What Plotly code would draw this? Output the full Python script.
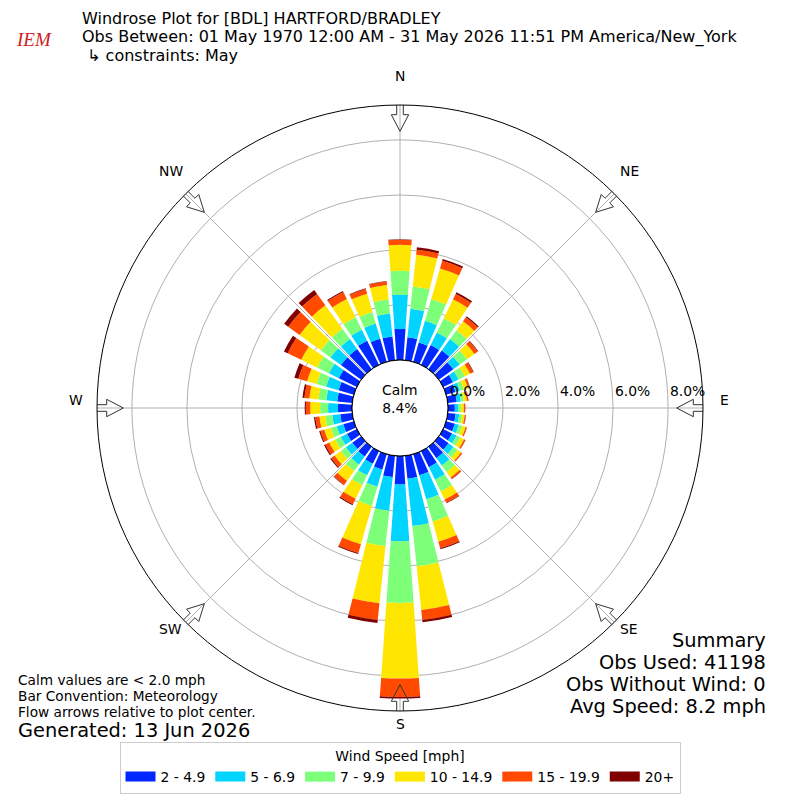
import math
import plotly.graph_objects as go

# Wind direction bins (degrees, meteorological: direction wind blows from)
directions = [0, 10, 20, 30, 40, 50, 60, 70, 80, 90, 100, 110,
              120, 130, 140, 150, 160, 170, 180, 190, 200, 210, 220, 230,
              240, 250, 260, 270, 280, 290, 300, 310, 320, 330, 340, 350]

speedLabels = ["2 - 4.9", "5 - 6.9", "7 - 9.9", "10 - 14.9", "15 - 19.9", "20+"]

# Percent of observations per direction bin, one list per speed class
speed2to5 = [1.13, 0.84, 0.73, 0.80, 0.84, 0.65, 0.40, 0.36, 0.33, 0.25, 0.29, 0.33,
             0.36, 0.44, 0.51, 0.65, 0.80, 0.84, 1.04, 0.78, 0.58, 0.51, 0.44, 0.40,
             0.40, 0.40, 0.44, 0.51, 0.55, 0.58, 0.73, 0.91, 0.91, 0.98, 0.87, 0.87]
speed5to7 = [1.24, 1.04, 0.82, 0.51, 0.51, 0.29, 0.22, 0.16, 0.15, 0.13, 0.13, 0.15,
             0.18, 0.22, 0.33, 0.51, 0.91, 1.73, 2.06, 1.23, 0.65, 0.47, 0.36, 0.29,
             0.25, 0.25, 0.29, 0.36, 0.40, 0.47, 0.40, 0.47, 0.44, 0.44, 0.58, 0.84]
speed7to10 = [0.87, 0.82, 0.82, 0.58, 0.40, 0.33, 0.25, 0.15, 0.11, 0.09, 0.11, 0.13,
              0.15, 0.18, 0.29, 0.47, 0.84, 1.47, 2.24, 1.29, 0.73, 0.40, 0.29, 0.22,
              0.22, 0.22, 0.25, 0.29, 0.29, 0.36, 0.47, 0.44, 0.47, 0.51, 0.44, 0.51]
speed10to15 = [0.95, 1.16, 1.16, 0.76, 0.40, 0.33, 0.22, 0.16, 0.11, 0.11, 0.09, 0.13,
               0.16, 0.16, 0.25, 0.33, 0.76, 1.60, 2.75, 2.09, 1.45, 0.55, 0.44, 0.29,
               0.25, 0.25, 0.22, 0.36, 0.33, 0.36, 0.65, 0.95, 1.05, 0.73, 0.69, 0.53]
speed15to20 = [0.18, 0.18, 0.29, 0.22, 0.18, 0.15, 0.13, 0.07, 0.05, 0.04, 0.04, 0.04,
               0.05, 0.05, 0.07, 0.13, 0.25, 0.36, 0.67, 0.61, 0.33, 0.22, 0.18, 0.15,
               0.16, 0.15, 0.15, 0.16, 0.18, 0.33, 0.55, 0.51, 0.51, 0.29, 0.18, 0.13]
speed20plus = [0.02, 0.09, 0.07, 0.07, 0.05, 0.02, 0.02, 0.01, 0.01, 0.01, 0.01, 0.01,
               0.01, 0.01, 0.01, 0.02, 0.04, 0.09, 0.06, 0.11, 0.04, 0.04, 0.02, 0.04,
               0.05, 0.04, 0.05, 0.04, 0.07, 0.15, 0.15, 0.18, 0.18, 0.04, 0.02, 0.02]

speedSeries = [speed2to5, speed5to7, speed7to10, speed10to15, speed15to20, speed20plus]
speedColors = ["#0028ff", "#00d4ff", "#7dff7a", "#ffe600", "#ff4a00", "#800000"]

compassVals = [0, 45, 90, 135, 180, 225, 270, 315]
compassText = ["N", "NE", "E", "SE", "S", "SW", "W", "NW"]

radialTicks = [0, 2, 4, 6, 8]
radialTickText = ["0.0%", "2.0%", "4.0%", "6.0%", "8.0%"]

calmPct = 8.4

# Page geometry: the html body has an 8px margin, so the figure is 792px
# and every page position below is given in window pixels.
OFF = 8
FW = 800 - OFF
CX, CY = 400, 400
R_OUT = 303
R_HOLE = 48
R_MAX = 9.27
PX_PER_UNIT = (R_OUT - R_HOLE) / R_MAX

FONT = "DejaVu Sans"


def px(x):
    return (x - OFF) / FW


def py(y):
    return 1 - (y - OFF) / FW


fig = go.Figure()

for vals, label, color in zip(speedSeries, speedLabels, speedColors):
    fig.add_trace(
        go.Barpolar(
            r=vals,
            theta=directions,
            width=8,
            name=label,
            marker_color=color,
            marker_line_width=0,
            showlegend=False,
            hoverinfo="skip",
        )
    )

# Legend proxies: thick line segments look like the wide legend patches
for label, color in zip(speedLabels, speedColors):
    fig.add_trace(
        go.Scatterpolar(
            r=[None],
            theta=[None],
            mode="lines",
            name=label,
            line=dict(color=color, width=10),
            showlegend=True,
        )
    )

# Calm circle outline at the edge of the hole
fig.add_trace(
    go.Scatterpolar(
        r=[0] * 73,
        theta=[i * 5 for i in range(73)],
        mode="lines",
        line=dict(color="black", width=1),
        showlegend=False,
        hoverinfo="skip",
    )
)

# Hollow flow arrows at the compass points (outline in local pixel coords)
arrowOutline = [
    (306.7, -3.3), (293.3, -3.3), (293.3, -8.7), (276.7, 0.0),
    (293.3, 8.7), (293.3, 3.3), (306.7, 3.3), (306.7, -3.3),
]
for d in compassVals:
    rr, tt = [], []
    for u, v in arrowOutline:
        rpx = math.hypot(u, v)
        rr.append((rpx - R_HOLE) / PX_PER_UNIT)
        tt.append(d + math.degrees(math.atan2(v, u)))
    fig.add_trace(
        go.Scatterpolar(
            r=rr,
            theta=tt,
            mode="lines",
            line=dict(color="#333333", width=1),
            cliponaxis=False,
            showlegend=False,
            hoverinfo="skip",
        )
    )

dom = [px(CX - R_OUT), px(CX + R_OUT)]

fig.update_layout(
    width=FW,
    height=FW,
    margin=dict(l=0, r=0, t=0, b=0),
    paper_bgcolor="white",
    font=dict(family=FONT, color="black"),
    polar=dict(
        domain=dict(x=dom, y=dom),
        hole=R_HOLE / R_OUT,
        bgcolor="white",
        barmode="stack",
        radialaxis=dict(
            range=[0, R_MAX],
            tickvals=radialTicks,
            angle=0,
            showline=False,
            showticklabels=False,
            ticks="",
            gridcolor="#b0b0b0",
            gridwidth=1,
        ),
        angularaxis=dict(
            direction="clockwise",
            rotation=90,
            tickmode="array",
            tickvals=compassVals,
            showticklabels=False,
            ticks="",
            showline=True,
            linecolor="black",
            linewidth=1,
            gridcolor="#b0b0b0",
            gridwidth=1,
        ),
    ),
    legend=dict(
        orientation="h",
        x=px(400),
        xanchor="center",
        y=py(742),
        yanchor="top",
        title=dict(text="Wind Speed [mph]", side="top center", font=dict(size=13.9)),
        font=dict(size=13.9),
        bordercolor="#cccccc",
        borderwidth=1,
        itemwidth=30,
    ),
    showlegend=True,
)


def addText(text, x, y, size, xanchor="left", color="black", family=FONT):
    fig.add_annotation(
        text=text,
        x=px(x),
        y=py(y),
        xref="paper",
        yref="paper",
        xanchor=xanchor,
        yanchor="middle",
        showarrow=False,
        align=xanchor,
        font=dict(size=size, color=color, family=family),
    )


# Compass labels just outside the rim
for d, lab in zip(compassVals, compassText):
    a = math.radians(d)
    addText(lab, CX + 324 * math.sin(a), CY - 324 * math.cos(a), 13.9, xanchor="center")

# Radial tick labels sit just right of each ring, above the E line
for t, lab in zip(radialTicks, radialTickText):
    addText(lab, CX + R_HOLE + t * PX_PER_UNIT, 391, 13.9)

# Title block
addText("Windrose Plot for [BDL] HARTFORD/BRADLEY", 80, 18.2, 16)
addText("Obs Between: 01 May 1970 12:00 AM - 31 May 2026 11:51 PM America/New_York", 80, 37, 16)
addText(" ↳ constraints: May", 80, 55.8, 16)
addText("<i>IEM</i>", 14, 39, 19, color="#cc2222", family="Liberation Serif")

# Calm value in the middle
addText(f"Calm<br>{calmPct:.1f}%", CX, CY - 1, 13.9, xanchor="center")

# Notes, bottom left
addText("Calm values are < 2.0 mph", 16, 680, 13.7)
addText("Bar Convention: Meteorology", 16, 696, 13.7)
addText("Flow arrows relative to plot center.", 16, 712, 13.7)
addText("Generated: 13 Jun 2026", 16, 730, 19.4)

# Summary, bottom right
addText("Summary", 768, 640, 19.4, xanchor="right")
addText("Obs Used: 41198", 768, 662, 19.4, xanchor="right")
addText("Obs Without Wind: 0", 768, 684, 19.4, xanchor="right")
addText("Avg Speed: 8.2 mph", 768, 706, 19.4, xanchor="right")

fig.write_html("out.html")
